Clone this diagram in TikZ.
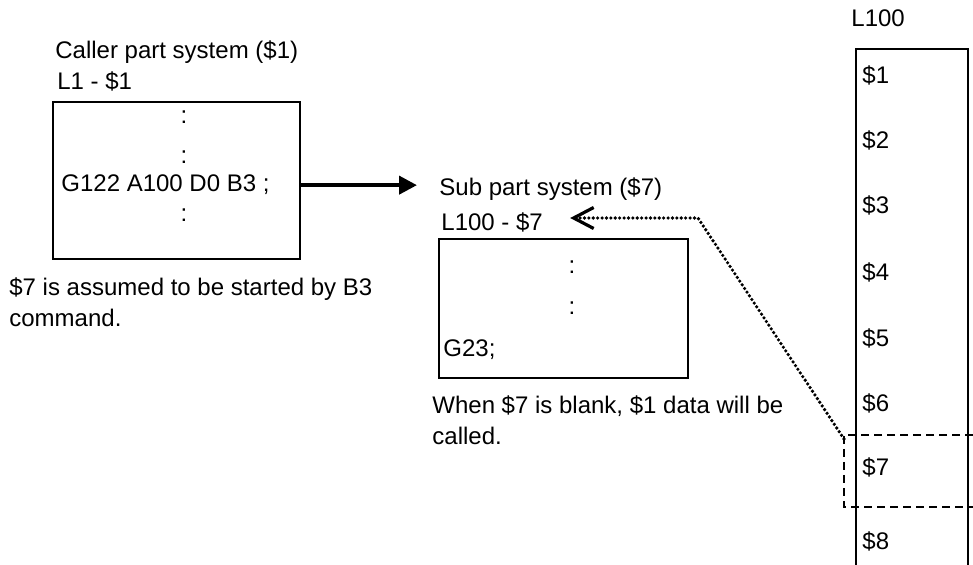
\documentclass[tikz,border=0pt]{standalone}
\usepackage{fontspec}
\setmainfont{Liberation Sans}
\usetikzlibrary{arrows.meta,positioning}

\begin{document}
\begin{tikzpicture}[
  x=0.5pt, y=-0.5pt,
  every node/.style={font=\fontsize{12}{15.5}\selectfont, inner sep=0pt},
  txt/.style={anchor=base west},
  note/.style={anchor=north west, align=left},
  prog/.style={rectangle, draw, line width=1.2pt, anchor=north west},
  bigarr/.style={-{Triangle[length=9pt,width=9pt]}, line width=2pt},
  dotarr/.style={-{Straight Barb[length=10pt,width=10.5pt,line width=1.6pt]},
                 line width=1.8pt, dash pattern=on 0pt off 2.2pt, line cap=round},
  slotline/.style={line width=1pt, dash pattern=on 4pt off 2.5pt},
  col/.style={line width=1pt},
]
\useasboundingbox (0,0) rectangle (973,565);

\node[txt]  (callertitle) at (55,59)  {Caller part system (\$1)};
\node[txt]  (l1)          at (57,90)  {L1 - \$1};
\node[prog, minimum width=123.5pt, minimum height=78.5pt]
                          (caller) at (52,101) {};
\node       (cdot1)       at (184,117) {:};
\node       (cdot2)       at (184,157) {:};
\node[txt]  (g122)        at (61,192) {G122 A100 D0 B3 ;};
\node       (cdot3)       at (184,215) {:};
\node[note] (callnote)    at (9,277) {\$7 is assumed to be started by B3\\
                                      command.};

\node[txt]  (subtitle)    at (439,196) {Sub part system (\$7)};
\node[txt]  (sub7)        at (441,231) {L100 - \$7};
\node[prog, minimum width=124.5pt, minimum height=69.5pt]
                          (sub) at (438,238) {};
\node       (sdot1)       at (572,267) {:};
\node       (sdot2)       at (572,308) {:};
\node[txt]  (g23)         at (443,357) {G23;};
\node[note] (subnote)     at (432,395) {When \$7 is blank, \$1 data will be\\
                                        called.};

\node[txt]  (l100)        at (851,27) {L100};
\draw[col] (856,565) |- (968,49) -- (968,565);
\foreach \k/\y in {1/75,2/140,3/205,4/272,5/338,6/403,7/467,8/541}
  \node[anchor=west] (slot\k) at (862,\y) {\$\k};
\draw[slotline] (973,435) -| (844,507) -- (973,507);
\coordinate (slot7corner) at (844,439);
\coordinate (bend) at (698,218);

\draw[bigarr, shorten >=11pt] (caller.east |- g122.east) -- (g122.east -| subtitle.west);
\draw[dotarr, shorten >=13.5pt] (slot7corner) -- (bend) -- (bend -| sub7.east);
\end{tikzpicture}
\end{document}
